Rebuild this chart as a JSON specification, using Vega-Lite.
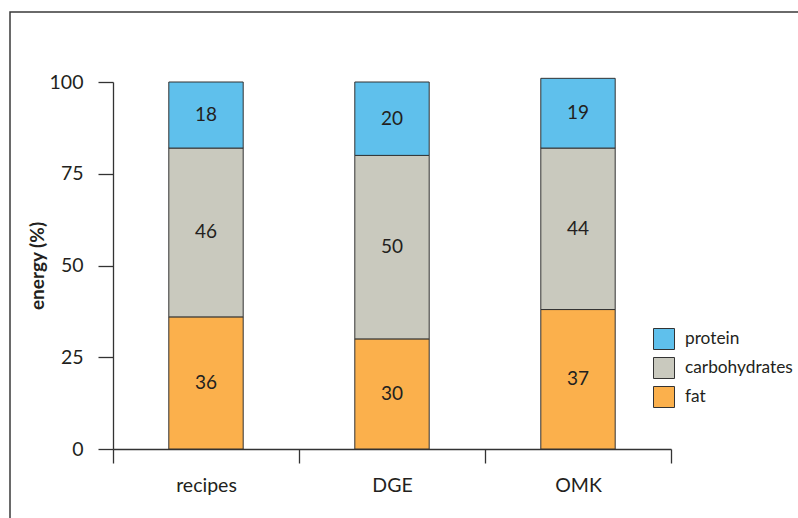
{
  "$schema": "https://vega.github.io/schema/vega-lite/v6.json",
  "width": 791,
  "height": 509,
  "autosize": {"type": "none"},
  "padding": {"left": 10, "top": 12, "right": -3, "bottom": -3},
  "background": "white",
  "config": {
    "font": "Lato",
    "view": {"stroke": "#3a3a3a", "strokeWidth": 1.5},
    "axis": {
      "domainColor": "#333333",
      "tickColor": "#333333",
      "domainWidth": 1.3,
      "tickWidth": 1.3,
      "labelColor": "#231F20",
      "titleColor": "#231F20",
      "labelFont": "Lato",
      "titleFont": "Lato",
      "grid": false
    },
    "legend": {"labelFont": "Lato"}
  },
  "data": {
    "values": [
      {"diet": "recipes", "nutrient": "fat", "rank": 1, "value": 36, "label": "36"},
      {"diet": "recipes", "nutrient": "carbohydrates", "rank": 2, "value": 46, "label": "46"},
      {"diet": "recipes", "nutrient": "protein", "rank": 3, "value": 18, "label": "18"},
      {"diet": "DGE", "nutrient": "fat", "rank": 1, "value": 30, "label": "30"},
      {"diet": "DGE", "nutrient": "carbohydrates", "rank": 2, "value": 50, "label": "50"},
      {"diet": "DGE", "nutrient": "protein", "rank": 3, "value": 20, "label": "20"},
      {"diet": "OMK", "nutrient": "fat", "rank": 1, "value": 38, "label": "37"},
      {"diet": "OMK", "nutrient": "carbohydrates", "rank": 2, "value": 44, "label": "44"},
      {"diet": "OMK", "nutrient": "protein", "rank": 3, "value": 19, "label": "19"}
    ]
  },
  "encoding": {
    "x": {
      "field": "diet",
      "type": "nominal",
      "sort": ["recipes", "DGE", "OMK"],
      "scale": {"range": [103, 661], "paddingInner": 0, "paddingOuter": 0},
      "axis": {
        "title": null,
        "labelAngle": 0,
        "tickBand": "extent",
        "tickSize": 14,
        "labelPadding": 13,
        "labelFontSize": 19.5,
        "offset": -72
      }
    },
    "order": {"field": "rank", "type": "quantitative"}
  },
  "layer": [
    {
      "mark": {"type": "bar", "stroke": "#333333", "strokeWidth": 1, "width": {"band": 0.4}},
      "encoding": {
        "y": {
          "field": "value",
          "type": "quantitative",
          "stack": "zero",
          "scale": {"domain": [0, 100], "range": [437, 70], "nice": false},
          "axis": {
            "values": [0, 25, 50, 75, 100],
            "tickSize": 15,
            "labelPadding": 15,
            "labelFontSize": 19.5,
            "offset": -103,
            "title": "energy (%)",
            "titleFontWeight": "bold",
            "titleFontSize": 19,
            "titlePadding": 2
          }
        },
        "color": {
          "field": "nutrient",
          "type": "nominal",
          "scale": {
            "domain": ["protein", "carbohydrates", "fat"],
            "range": ["#5FC0EC", "#C9C9BE", "#FBB04C"]
          },
          "legend": {
            "title": null,
            "orient": "none",
            "legendX": 643,
            "legendY": 316,
            "padding": 0,
            "symbolType": "square",
            "symbolSize": 441,
            "symbolStrokeColor": "#333333",
            "symbolStrokeWidth": 1,
            "symbolOpacity": 1,
            "labelFontSize": 17.3,
            "labelColor": "#231F20",
            "labelOffset": 10,
            "rowPadding": 3
          }
        }
      }
    },
    {
      "mark": {"type": "text", "fontSize": 19, "color": "#231F20", "baseline": "middle", "align": "center"},
      "encoding": {
        "y": {"field": "value", "type": "quantitative", "stack": "zero", "bandPosition": 0.5},
        "detail": {"field": "nutrient", "type": "nominal"},
        "text": {"field": "label", "type": "nominal"}
      }
    }
  ]
}
